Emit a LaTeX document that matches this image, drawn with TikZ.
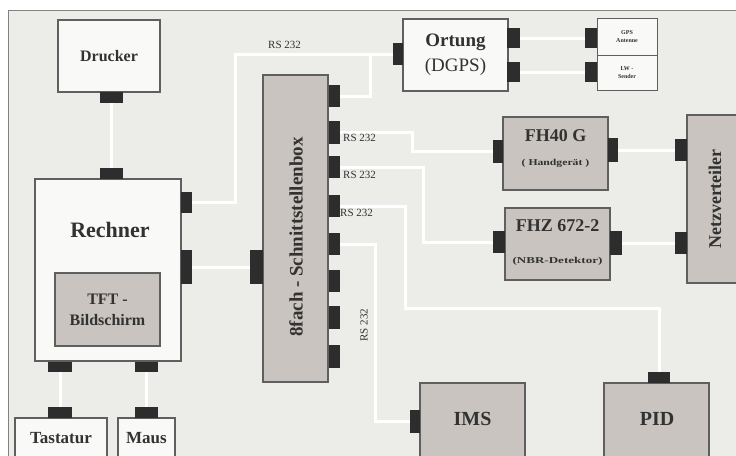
\documentclass[tikz,border=0pt]{standalone}
\usepackage{fontspec}
\usepackage{graphicx}
\setmainfont{Liberation Serif}
\definecolor{bg}{RGB}{236,236,233}
\definecolor{bwhite}{RGB}{249,249,247}
\definecolor{bgray}{RGB}{201,196,191}
\definecolor{edge}{RGB}{95,95,95}
\definecolor{portc}{RGB}{45,45,45}
\definecolor{txt}{RGB}{50,50,50}
\definecolor{framec}{RGB}{130,130,130}
\tikzset{
 box/.style={draw=edge, line width=1.3pt, inner sep=0pt, align=center, text=txt},
 wbox/.style={box, fill=bwhite},
 gbox/.style={box, fill=bgray},
 sz/.style 2 args={minimum width=#1pt, minimum height=#2pt},
 port/.style 2 args={fill=portc, inner sep=0pt, minimum width=#1pt, minimum height=#2pt},
 wire/.style={draw=white, line width=3pt},
 lbl/.style={text=txt, font=\fontsize{11}{12}\selectfont, inner sep=0pt},
 tx/.style={text=txt, inner sep=0pt, align=center, font=\fontsize{#1}{#1}\selectfont\bfseries},
}
\begin{document}
\begin{tikzpicture}[x=1pt,y=-1pt]
\useasboundingbox (0,0) rectangle (736,455);
\clip (0,0) rectangle (736,455);
\fill[white] (0,0) rectangle (736,455);
\fill[bg] (8,10) rectangle (740,460);
\draw[framec, line width=1pt] (740,10) -- (8,10) -- (8,460);

% junction coordinates
\coordinate (j1) at (370,55);
\coordinate (j4) at (659,308);

% ports
\node[port={23}{10}] (druP) at (111.5,97.5) {};
\node[port={23}{11}] (rechTop) at (111.5,173.5) {};
\node[port={11}{21}] (rechR1) at (186.5,202.5) {};
\node[port={11}{33}] (rechR2) at (186.5,267) {};
\node[port={24}{10}] (rechB1) at (60,367) {};
\node[port={23}{10}] (rechB2) at (146.5,367) {};
\node[port={23}{11}] (tastP) at (60,412.5) {};
\node[port={23}{11}] (mausP) at (146.5,412.5) {};
\node[port={13}{34}] (sL) at (256.5,267) {};
\node[port={11}{21}] (s1) at (334.5,96) {};
\node[port={11}{22}] (s2) at (334.5,132.5) {};
\node[port={11}{21}] (s3) at (334.5,167) {};
\node[port={11}{22}] (s4) at (334.5,206) {};
\node[port={11}{22}] (s5) at (334.5,244) {};
\node[port={11}{22}] (s6) at (334.5,281) {};
\node[port={11}{22}] (s7) at (334.5,317.5) {};
\node[port={11}{23}] (s8) at (334.5,356.5) {};
\node[port={10}{22}] (ortL) at (398,54) {};
\node[port={13}{20}] (ortR1) at (513.5,38) {};
\node[port={13}{20}] (ortR2) at (513.5,72) {};
\node[port={12}{20}] (gpsL) at (591,38) {};
\node[port={12}{20}] (lwL) at (591,72) {};
\node[port={10}{23}] (fhL) at (498,151.5) {};
\node[port={10}{23}] (fhR) at (613,150) {};
\node[port={12}{21}] (fzL) at (499,242) {};
\node[port={12}{23}] (fzR) at (616,243) {};
\node[port={12}{22}] (netL1) at (681,150) {};
\node[port={12}{21}] (netL2) at (681,243) {};
\node[port={10}{23}] (imsL) at (415,421.5) {};
\node[port={22}{11}] (pidP) at (659,377.5) {};

% wires
\begin{scope}[on background layer/.try]
\end{scope}
\draw[wire] (druP.south) -- (rechTop.north);
\draw[wire] (rechR1.east) -- ++(43,0) |- (ortL.west);
\draw[wire] (s1.east) -| (j1);
\draw[wire] (rechR2.east) -- (sL.west);
\draw[wire] (s2.east) -- ++(72,0) |- (fhL.west);
\draw[wire] (s3.east) -- ++(83,0) |- (fzL.west);
\draw[wire] (s4.east) -- ++(65,0) |- (j4) -- (pidP.north);
\draw[wire] (s5.east) -- ++(35,0) |- (imsL.west);
\draw[wire] (fhR.east) -- (netL1.west);
\draw[wire] (fzR.east) -- (netL2.west);
\draw[wire] (ortR1.east) -- (gpsL.west);
\draw[wire] (ortR2.east) -- (lwL.west);
\draw[wire] (rechB1.south) -- (tastP.north);
\draw[wire] (rechB2.south) -- (mausP.north);

% boxes
\node[wbox, sz={102}{72}, font=\fontsize{16}{18}\selectfont\bfseries] (dru) at (109,56) {Drucker};
\node[wbox, sz={146}{182}] (rech) at (108,270) {};
\node[tx=22] (rechT) at (110,230) {Rechner};
\node[gbox, sz={105}{73}, font=\fontsize{16}{21}\selectfont\bfseries] (tft) at (107.5,309.5) {TFT -\\Bildschirm};
\node[wbox, sz={92}{40}, font=\fontsize{17}{18}\selectfont\bfseries] (tast) at (61,438) {Tastatur};
\node[wbox, sz={57}{40}, font=\fontsize{17}{18}\selectfont\bfseries] (maus) at (146.5,438) {Maus};
\node[gbox, sz={65}{307}] (sbox) at (295.5,228.5) {};
\node[tx=19, rotate=90] (sboxT) at (296,237) {8fach - Schnittstellenbox};
\node[wbox, sz={105}{72}, font=\fontsize{19}{25}\selectfont\bfseries] (ort) at (455.5,55) {Ortung\\{\mdseries (DGPS)}};
\node[wbox, line width=1pt, sz={60}{37}, font=\fontsize{6}{8}\selectfont\bfseries] (gps) at (627,36.5) {GPS\\Antenne};
\node[wbox, line width=1pt, sz={60}{35}, font=\fontsize{6}{8}\selectfont\bfseries] (lw) at (627,72.5) {LW -\\Sender};
\node[gbox, sz={105}{73}] (fh) at (555.5,153.5) {};
\node[tx=18] (fhA) at (555.5,136) {FH40 G};
\node[tx=9] (fhB) at (555.5,163) {\scalebox{1.3}[1]{( Handgerät )}};
\node[gbox, sz={105}{72}] (fz) at (557.5,244) {};
\node[tx=18] (fzA) at (557.5,226) {FHZ 672-2};
\node[tx=9] (fzB) at (557.5,261) {\scalebox{1.45}[1]{(NBR-Detektor)}};
\node[gbox, sz={58}{168}] (net) at (716,199) {};
\node[tx=18, rotate=90] (netT) at (715,199) {Netzverteiler};
\node[gbox, sz={105}{76}] (ims) at (472.5,421) {};
\node[tx=20] (imsT) at (472.5,419) {IMS};
\node[gbox, sz={105}{76}] (pid) at (656.5,421) {};
\node[tx=20] (pidT) at (657,419) {PID};

% redraw ports on top of boxes
\foreach \p in {druP,rechTop,rechR1,rechR2,rechB1,rechB2,tastP,mausP,sL,s1,s2,s3,s4,s5,s6,s7,s8,ortL,ortR1,ortR2,gpsL,lwL,fhL,fhR,fzL,fzR,netL1,netL2,imsL,pidP}
  \fill[portc] (\p.south west) rectangle (\p.north east);

% labels
\node[lbl, anchor=west] (l1) at (268,45) {RS 232};
\node[lbl, anchor=west] (l2) at (343,138) {RS 232};
\node[lbl, anchor=west] (l3) at (343,175) {RS 232};
\node[lbl, anchor=west] (l4) at (340,213) {RS 232};
\node[lbl, rotate=90] (l5) at (364,325) {RS 232};
\end{tikzpicture}
\end{document}
